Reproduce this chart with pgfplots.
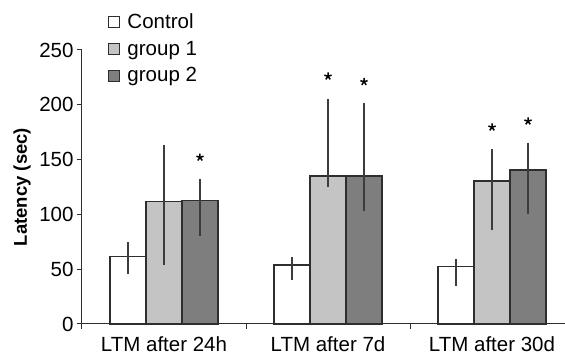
\documentclass[border=0pt]{standalone}
\usepackage{fontspec}
\setmainfont{Liberation Sans}
\usepackage{pgfplots}
\pgfplotsset{compat=1.18}
\usepackage{pgfplotstable}
\usetikzlibrary{plotmarks}

\definecolor{gone}{HTML}{C4C4C4}
\definecolor{gtwo}{HTML}{7E7E7E}
\definecolor{edge}{HTML}{2E2E2E}
\definecolor{errc}{HTML}{3C3C3C}
\newcommand\fs{\fontsize{20.5}{24}\selectfont}

% x positions: group centre 0,1,2; bars offset by one bar width (36pt = 0.2195 units)
\pgfplotstableread{
x y ep em
-0.2195 61.4 13 16
0.7805 53.8 7 14
1.7805 52.3 7 18
}\ctrl
\pgfplotstableread{
x y ep em
0 111.6 52 58
1 135 70 10
2 130.5 29 45
}\gA
\pgfplotstableread{
x y ep em
0.2195 112.5 20 32
1.2195 135 67 32
2.2195 140.5 25 40
}\gB
\pgfplotstableread{
x y
0.2195 152
1.0 226
1.2195 221
2.0 179.5
2.2195 185
}\stars

\begin{document}
\begin{tikzpicture}
\begin{axis}[
  scale only axis, width=492pt, height=274pt,
  xmin=-0.5, xmax=2.5, ymin=0, ymax=250,
  axis x line=bottom, axis y line=left,
  axis line style={-, edge, line width=1pt},
  ytick={0,50,...,250},
  xtick={-0.5,0.5,1.5,2.5}, xticklabels={},
  extra x ticks={0,1,2},
  extra x tick labels={LTM after 24h, LTM after 7d, LTM after 30d},
  extra x tick style={major tick length=0pt, tick label style={inner sep=0pt, yshift=-12pt}},
  tick align=outside, major tick length=5pt,
  tick style={edge, line width=1pt},
  tick label style={font=\fs},
  /pgf/number format/assume math mode=true,
  ylabel={Latency (sec)},
  ylabel style={font=\fontsize{18.5}{22}\selectfont\bfseries, at={(axis description cs:-0.122,0.5)}, anchor=center},
  legend style={draw=none, fill=none, at={(rel axis cs:0,1)}, anchor=north west,
    xshift=26pt, yshift=38pt, inner sep=0pt, row sep=8pt, column sep=6pt, font=\fs,
    nodes={inner sep=1.5pt}},
  legend cell align=left,
  legend image code/.code={\draw[#1, line width=0.8pt] (0pt,-5.5pt) rectangle (11pt,5.5pt);},
  clip=false,
]
\addplot[ybar, bar width=36pt, bar shift=0pt, fill=white, draw=edge, line width=1.2pt,
  error bars/.cd, y dir=both, y explicit, error mark=none,
  error bar style={errc, line width=1.5pt}]
  table[x=x, y=y, y error plus=ep, y error minus=em]{\ctrl};
\addlegendentry{Control}
\addplot[ybar, bar width=36pt, bar shift=0pt, fill=gone, draw=edge, line width=1.2pt,
  error bars/.cd, y dir=both, y explicit, error mark=none,
  error bar style={errc, line width=1.5pt}]
  table[x=x, y=y, y error plus=ep, y error minus=em]{\gA};
\addlegendentry{group 1}
\addplot[ybar, bar width=36pt, bar shift=0pt, fill=gtwo, draw=edge, line width=1.2pt,
  error bars/.cd, y dir=both, y explicit, error mark=none,
  error bar style={errc, line width=1.5pt}]
  table[x=x, y=y, y error plus=ep, y error minus=em]{\gB};
\addlegendentry{group 2}
\addplot[only marks, mark=star, mark size=3.8pt, mark options={line width=1.5pt, draw=black}, forget plot]
  table[x=x, y=y]{\stars};
\coordinate (O) at (rel axis cs:0,0);
\end{axis}
\pgfresetboundingbox
\path[use as bounding box] (O) ++(-82pt,-31pt) rectangle ++(565pt,355pt);
\end{tikzpicture}
\end{document}
